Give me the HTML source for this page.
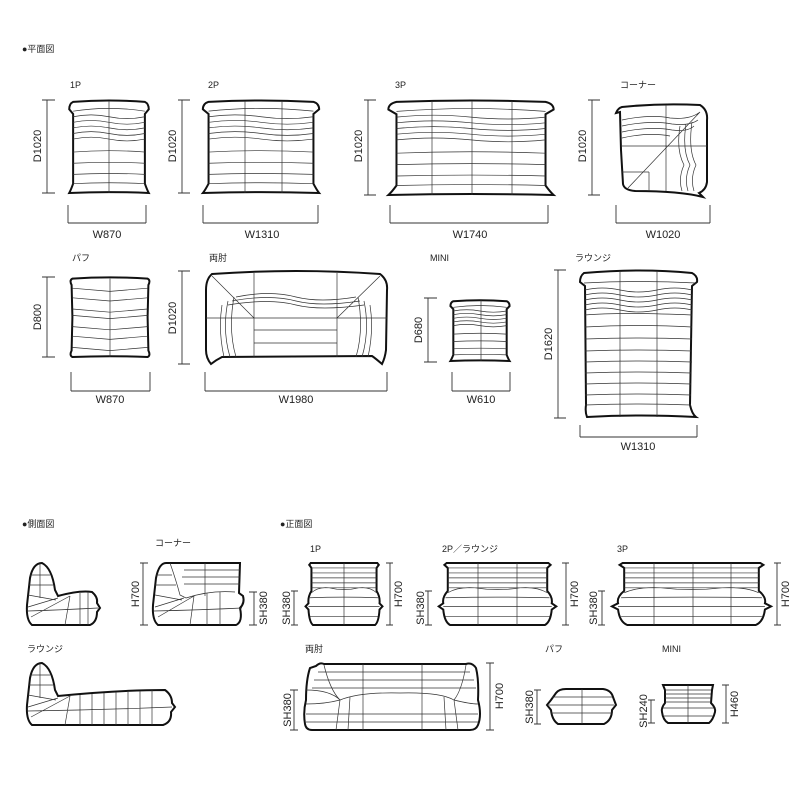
<!DOCTYPE html>
<html><head><meta charset="utf-8"><style>
html,body{margin:0;padding:0;background:#fff;width:800px;height:800px;overflow:hidden}
svg{display:block}
text{font-family:"Liberation Sans","Noto Sans CJK JP",sans-serif;fill:#222}
.o{fill:#fff;stroke:#111;stroke-width:2;vector-effect:non-scaling-stroke}
.l{fill:none;stroke:#333;stroke-width:0.7;vector-effect:non-scaling-stroke}
.d{fill:none;stroke:#333;stroke-width:0.9}
</style></head><body>
<svg width="800" height="800" viewBox="0 0 800 800" xmlns="http://www.w3.org/2000/svg">
<defs>
<g id="plan">
<path class="o" d="M4,2 Q50,-1 96,2 Q101,4 101,10 L96,15 L96,90 Q99,97 101,100 Q50,98 -1,100 Q1,97 4,90 L4,15 L-1,10 Q-1,4 4,2Z"/>
<path class="l" d="M4,12 Q50,6 96,12 M4,18 Q27,14 50,18 Q73,22 96,18 M4,24 Q27,20 50,24 Q73,28 96,24 M4,30 Q27,26 50,30 Q73,34 96,30 M4,36 Q27,32 50,36 Q73,40 96,36 M4,42 Q27,38 50,42 Q73,46 96,42 M4,56 Q50,53 96,56 M4,68 Q50,66 96,68 M4,80 Q50,78 96,80 M4,90 Q50,88 96,90"/>
</g>
<g id="puff">
<path class="o" d="M3,2 Q50,-1 97,2 Q101,4 98,10 L97,50 L98,92 Q101,98 97,100 Q50,98 3,100 Q-1,98 2,92 L3,50 L2,10 Q-1,4 3,2Z"/>
<path class="l" d="M3,14 L50,18 L97,14 M3,26 L50,30 L97,26 M3,40 L50,44 L97,40 M3,48 L50,52 L97,48 M3,62 L50,66 L97,62 M3,74 L50,78 L97,74 M3,88 L50,92 L97,88 M50,2 L50,100"/>
</g>
<g id="front">
<path class="o" d="M5,0 L95,0 L97,3 L94,8 L94,45 Q99,55 98,65 L102,70 L98,75 Q97,95 92,100 L8,100 Q3,95 2,75 L-2,70 L2,65 Q1,55 6,45 L6,8 L3,3 Z"/>
<path class="l" d="M6,8 L94,8 M6,16 L94,16 M6,24 L94,24 M6,32 L94,32 M6,40 L94,40 M6,48 Q15,38 30,40 Q50,46 70,40 Q85,38 94,48 M4,56 Q50,54 96,56 M2,70 L98,70 M4,86 L96,86"/>
</g>
</defs>

<text x="22" y="52" font-size="9">●平面図</text>
<text x="70" y="88" font-size="9">1P</text>
<use href="#plan" transform="translate(70,100) scale(0.78,0.93)"/>
<line class="l" x1="109" y1="101" x2="109" y2="193"/>
<path class="d" d="M42,100 H55 M47,100 V193 M42,193 H55"/>
<text transform="translate(41,146) rotate(-90)" font-size="11" text-anchor="middle">D1020</text>
<path class="d" d="M68,205 V223 M68,223 H146 M146,205 V223"/>
<text x="107" y="238" font-size="11" text-anchor="middle">W870</text>
<text x="208" y="88" font-size="9">2P</text>
<use href="#plan" transform="translate(204,100) scale(1.14,0.93)"/>
<path class="l" d="M245,101 V193 M282,101 V193"/>
<path class="d" d="M178,100 H190 M182,100 V193 M178,193 H190"/>
<text transform="translate(176,146) rotate(-90)" font-size="11" text-anchor="middle">D1020</text>
<path class="d" d="M203,205 V223 M203,223 H318 M318,205 V223"/>
<text x="262" y="238" font-size="11" text-anchor="middle">W1310</text>
<text x="395" y="88" font-size="9">3P</text>
<use href="#plan" transform="translate(390,100) scale(1.62,0.95)"/>
<path class="l" d="M432,101 V195 M472,101 V195 M512,101 V195"/>
<path class="d" d="M364,100 H376 M368,100 V195 M364,195 H376"/>
<text transform="translate(362,146) rotate(-90)" font-size="11" text-anchor="middle">D1020</text>
<path class="d" d="M390,205 V223 M390,223 H548 M548,205 V223"/>
<text x="470" y="238" font-size="11" text-anchor="middle">W1740</text>
<text x="620" y="88" font-size="9">コーナー</text>
<path class="o" d="M622,107 Q660,103 700,105 Q708,110 707,120 L707,182 Q706,190 699,193 L703,197 Q680,191 635,191 Q624,190 623,184 L621,150 L620,112 L616,113 Q618,108 622,107Z"/>
<path class="l" d="M700,112 L628,188 M666,105 V191 M621,146 H707 M622,120 Q650,114 670,118 Q690,120 700,112 M622,126 Q650,120 672,124 Q690,126 698,120 M622,132 Q650,126 672,130 Q688,132 694,126 M622,138 Q648,132 670,136 M680,126 Q676,150 684,165 Q678,178 682,191 M686,124 Q682,150 690,165 Q684,178 688,191 M692,122 Q688,150 696,165 Q690,178 694,191 M622,172 H649 M649,172 V191"/>
<path class="d" d="M588,100 H600 M592,100 V195 M588,195 H600"/>
<text transform="translate(586,146) rotate(-90)" font-size="11" text-anchor="middle">D1020</text>
<path class="d" d="M616,205 V223 M616,223 H710 M710,205 V223"/>
<text x="663" y="238" font-size="11" text-anchor="middle">W1020</text>

<text x="72" y="261" font-size="9">パフ</text>
<use href="#puff" transform="translate(70,277) scale(0.8,0.8)"/>
<path class="d" d="M42,277 H55 M47,277 V357 M42,357 H55"/>
<text transform="translate(41,317) rotate(-90)" font-size="11" text-anchor="middle">D800</text>
<path class="d" d="M71,372 V391 M71,391 H150 M150,372 V391"/>
<text x="110" y="403" font-size="11" text-anchor="middle">W870</text>
<text x="209" y="261" font-size="9">両肘</text>
<path class="o" d="M212,274 Q296,268 380,274 Q388,280 387,290 L386,350 Q385,358 382,364 Q375,358 372,356 L222,357 Q216,360 211,364 Q206,358 206,350 L206,290 Q206,279 212,274Z"/>
<path class="l" d="M254,273 V357 M337,273 V357 M206,318 H387 M212,276 L254,318 M380,276 L337,318 M236,297 Q270,290 296,297 Q320,303 356,297 M232,301 Q270,294 296,301 Q320,307 360,301 M228,305 Q270,298 296,305 Q320,311 364,305 M254,330 H337 M254,343 H337 M234,297 Q228,330 236,357 M228,301 Q222,330 230,357 M222,305 Q218,330 224,357 M358,297 Q364,330 356,357 M364,301 Q370,330 362,357 M370,305 Q374,330 368,357"/>
<path class="d" d="M178,271 H190 M182,271 V364 M178,364 H190"/>
<text transform="translate(176,318) rotate(-90)" font-size="11" text-anchor="middle">D1020</text>
<path class="d" d="M205,372 V391 M205,391 H387 M387,372 V391"/>
<text x="296" y="403" font-size="11" text-anchor="middle">W1980</text>
<text x="430" y="261" font-size="9">MINI</text>
<use href="#plan" transform="translate(451,300) scale(0.58,0.61)"/>
<line class="l" x1="481" y1="300" x2="481" y2="361"/>
<path class="d" d="M424,298 H437 M428,298 V362 M424,362 H437"/>
<text transform="translate(422,330) rotate(-90)" font-size="11" text-anchor="middle">D680</text>
<path class="d" d="M452,372 V391 M452,391 H510 M510,372 V391"/>
<text x="481" y="403" font-size="11" text-anchor="middle">W610</text>
<text x="575" y="261" font-size="9">ラウンジ</text>
<path class="o" d="M584,273 Q640,268 692,273 Q698,276 697,282 L692,286 L690,405 Q692,414 696,417 Q640,414 587,417 Q585,412 586,405 L585,286 L580,282 Q580,276 584,273Z"/>
<path class="l" d="M620,271 V417 M657,271 V417 M584,283 Q640,280 696,283 M585,290 Q602,286 620,290 Q638,294 657,290 Q675,286 692,290 M585,295 Q602,291 620,295 Q638,299 657,295 Q675,291 692,295 M585,300 Q602,296 620,300 Q638,304 657,300 Q675,296 692,300 M585,305 Q602,301 620,305 Q638,309 657,305 Q675,301 692,305 M585,310 Q602,306 620,310 Q638,314 657,310 Q675,306 692,310 M585,315 Q620,312 692,315 M585,327 Q640,324 692,327 M585,339 Q640,337 692,339 M585,351 Q640,349 692,351 M585,362 Q640,360 692,362 M585,373 Q640,371 691,373 M585,384 Q640,382 691,384 M585,395 Q640,393 691,395 M585,405 Q640,403 691,405"/>
<path class="d" d="M554,270 H566 M558,270 V418 M554,418 H566"/>
<text transform="translate(552,344) rotate(-90)" font-size="11" text-anchor="middle">D1620</text>
<path class="d" d="M580,425 V437 M580,437 H697 M697,425 V437"/>
<text x="638" y="450" font-size="11" text-anchor="middle">W1310</text>

<text x="22" y="527" font-size="9">●側面図</text>
<path class="o" d="M32,625 Q26,620 27,605 L30,578 Q33,563 42,563 Q52,568 55,590 L58,596 Q80,590 92,592 Q98,597 97,603 L100,608 L97,612 Q97,622 90,625Z"/>
<path class="l" d="M30,575 H50 M29,585 H53 M28,595 L56,600 M28,607 L58,598 M31,617 L70,596 M40,563 V598 M70,596 L65,625 M80,593 V625 M88,592 V625 M28,611 Q60,610 98,608"/>
<text x="155" y="546" font-size="9">コーナー</text>
<path class="o" d="M158,625 Q152,620 153,605 L156,578 Q159,563 166,563 L240,563 L239,593 L243,596 Q245,603 240,608 Q243,622 236,625Z"/>
<path class="l" d="M170,563 Q176,580 180,595 L186,598 Q210,590 235,592 M184,570 H240 M182,577 H240 M184,584 H240 M205,563 V596 M156,575 H172 M155,585 H176 M155,595 L182,600 M155,607 L184,598 M158,617 L194,596 M194,596 L190,625 M207,593 V625 M220,592 V625 M154,611 Q200,610 242,608"/>
<path class="d" d="M140,563 H148 M143,563 V625 M140,625 H148"/>
<text transform="translate(139,594) rotate(-90)" font-size="11" text-anchor="middle">H700</text>
<path class="d" d="M249,592 H257 M254,592 V625 M249,625 H257"/>
<text transform="translate(267,608) rotate(-90)" font-size="11" text-anchor="middle">SH380</text>
<text x="27" y="652" font-size="9">ラウンジ</text>
<path class="o" d="M32,725 Q26,720 27,705 L30,678 Q33,663 42,663 Q52,668 55,690 L58,696 Q120,690 165,690 Q172,695 172,703 L175,707 L171,712 Q172,722 163,725Z"/>
<path class="l" d="M30,675 H50 M29,685 H53 M28,695 L56,700 M28,707 L58,698 M31,717 L70,696 M40,663 V698 M70,696 L65,725 M80,695 V725 M92,694 V725 M104,693 V725 M116,692 V725 M128,691 V725 M140,691 V725 M152,690 V725 M28,711 Q100,710 172,707"/>

<text x="280" y="527" font-size="9">●正面図</text>
<text x="310" y="552" font-size="9">1P</text>
<use href="#front" transform="translate(307,563) scale(0.74,0.62)"/>
<line class="l" x1="344" y1="563" x2="344" y2="625"/>
<path class="d" d="M291,591 H298 M294,591 V625 M291,625 H298"/>
<text transform="translate(290,608) rotate(-90)" font-size="11" text-anchor="middle">SH380</text>
<path class="d" d="M386,563 H393 M390,563 V625 M386,625 H393"/>
<text transform="translate(402,594) rotate(-90)" font-size="11" text-anchor="middle">H700</text>
<text x="442" y="552" font-size="9">2P／ラウンジ</text>
<use href="#front" transform="translate(441,563) scale(1.13,0.62)"/>
<path class="l" d="M478,563 V625 M517,563 V625"/>
<path class="d" d="M425,591 H432 M428,591 V625 M425,625 H432"/>
<text transform="translate(424,608) rotate(-90)" font-size="11" text-anchor="middle">SH380</text>
<path class="d" d="M562,563 H569 M566,563 V625 M562,625 H569"/>
<text transform="translate(578,594) rotate(-90)" font-size="11" text-anchor="middle">H700</text>
<text x="617" y="552" font-size="9">3P</text>
<use href="#front" transform="translate(615,563) scale(1.53,0.62)"/>
<path class="l" d="M654,563 V625 M693,563 V625 M731,563 V625"/>
<path class="d" d="M598,591 H605 M602,591 V625 M598,625 H605"/>
<text transform="translate(597,608) rotate(-90)" font-size="11" text-anchor="middle">SH380</text>
<path class="d" d="M774,563 H781 M777,563 V625 M774,625 H781"/>
<text transform="translate(789,594) rotate(-90)" font-size="11" text-anchor="middle">H700</text>

<text x="305" y="652" font-size="9">両肘</text>
<path class="o" d="M316,666 Q320,662 324,664 L466,664 Q472,662 476,668 Q479,680 478,700 Q482,715 478,725 Q476,730 470,730 L312,730 Q306,730 305,724 Q303,712 306,700 Q306,680 310,668Z"/>
<path class="l" d="M324,665 Q330,690 340,700 Q360,692 400,693 Q440,692 454,700 Q462,690 466,665 M363,664 V730 M422,664 V730 M318,672 H470 M314,680 H474 M312,688 H476 M340,700 L336,730 M350,697 L348,730 M454,700 L458,730 M444,697 L446,730 M306,704 Q325,704 340,700 M454,700 Q470,704 478,704 M306,714 H478 M306,722 H478 M340,700 Q330,690 306,690"/>
<path class="d" d="M290,690 H298 M294,690 V730 M290,730 H298"/>
<text transform="translate(291,710) rotate(-90)" font-size="11" text-anchor="middle">SH380</text>
<path class="d" d="M486,663 H494 M490,663 V730 M486,730 H494"/>
<text transform="translate(503,696) rotate(-90)" font-size="11" text-anchor="middle">H700</text>
<text x="545" y="652" font-size="9">パフ</text>
<path class="o" d="M556,693 Q559,689 566,689 L603,689 Q611,690 613,697 L616,705 L612,710 Q612,720 604,724 L558,724 Q552,720 551,710 L547,705 L551,700 Z"/>
<path class="l" d="M582,689 V724 M552,697 H612 M549,705 H614 M551,713 H612"/>
<path class="d" d="M534,690 H541 M537,690 V724 M534,724 H541"/>
<text transform="translate(533,707) rotate(-90)" font-size="11" text-anchor="middle">SH380</text>
<text x="662" y="652" font-size="9">MINI</text>
<path class="o" d="M663,685 L713,685 L712,690 L711,703 Q716,708 715,712 Q713,720 709,723 L668,723 Q663,720 662,712 Q661,708 665,703 L665,690 Z"/>
<path class="l" d="M688,685 V723 M665,690 H711 M665,694 H711 M665,698 H711 M665,702 H711 M663,708 H714 M664,716 H713"/>
<path class="d" d="M648,700 H655 M651,700 V723 M648,723 H655"/>
<text transform="translate(647,711) rotate(-90)" font-size="11" text-anchor="middle">SH240</text>
<path class="d" d="M722,685 H729 M726,685 V723 M722,723 H729"/>
<text transform="translate(738,704) rotate(-90)" font-size="11" text-anchor="middle">H460</text>
</svg>
</body></html>
